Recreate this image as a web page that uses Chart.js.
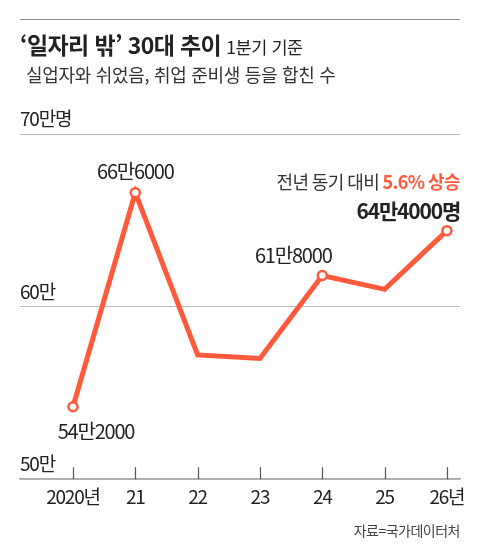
<!DOCTYPE html>
<html lang="ko">
<head>
<meta charset="utf-8">
<script src="https://cdn.jsdelivr.net/npm/chart.js@4.4.1/dist/chart.umd.min.js"></script>
<style>
  html, body { margin: 0; padding: 0; background: #fff; }
  #wrap { position: relative; width: 480px; height: 560px; overflow: hidden;
          font-family: "Noto Sans CJK KR", sans-serif; color: #222; }
  #wrap canvas { position: absolute; left: 0; top: 0; }
  .rule { position: absolute; left: 20px; top: 19px; width: 440px; border-top: 1.5px solid #8c8c8c; }
  .title { position: absolute; left: 20px; top: 28px; white-space: nowrap; font-size: 23px; font-weight: 700; line-height: 32px; letter-spacing: -0.6px; }
  .title small { font-size: 17.5px; font-weight: 400; margin-left: 5px; letter-spacing: -0.4px; }
  .sub { position: absolute; left: 26px; top: 61px; white-space: nowrap; font-size: 18px; line-height: 26px; color: #333; letter-spacing: -0.3px; }
  .src { position: absolute; right: 20px; top: 520px; font-size: 14px; color: #444; letter-spacing: -0.5px; }
</style>
</head>
<body>
<div id="wrap">
  <canvas id="chart" width="480" height="560"></canvas>
  <div class="rule"></div>
  <div class="title">‘일자리 밖’ 30대 추이<small>1분기 기준</small></div>
  <div class="sub">실업자와 쉬었음, 취업 준비생 등을 합친 수</div>
  <div class="src">자료=국가데이터처</div>
</div>
<script>
// 데이터 (단위: 만명)
var years = [2020, 2021, 2022, 2023, 2024, 2025, 2026];
var tickLabels = ['2020년', '21', '22', '23', '24', '25', '26년'];
var values = [54.2, 66.6, 57.2, 57.0, 61.8, 61.0, 64.4];
var yTicks = [50, 60, 70];
var yTickLabels = ['50만', '60만', '70만명'];
var labelYears = [2020, 2021, 2024, 2026];

var NUM_FONT = '"Noto Sans CJK KR", sans-serif';
var RED = '#FF5A3C';

// 라벨 위치 (점 기준 오프셋)
var labelOffsets = { 2020: [23, 25], 2021: [0, -21], 2024: [-29, -20] };

function fmt(v) {
    var man = Math.floor(v + 1e-9);
    var rest = Math.round((v - man) * 10000);
    return man + '만' + rest;
}

// 글자 폭을 좁게
var narrowText = {
    id: 'narrowText',
    beforeDraw: function(chart) { chart.ctx.letterSpacing = '-1.2px'; }
};

var tickMarks = {
    id: 'tickMarks',
    beforeDatasetsDraw: function(chart) {
        var ctx = chart.ctx, x = chart.scales.x, b = chart.chartArea.bottom;
        ctx.save();
        ctx.strokeStyle = '#555';
        ctx.lineWidth = 1.2;
        years.forEach(function(yr) {
            var px = Math.round(x.getPixelForValue(yr)) + 0.5;
            ctx.beginPath();
            ctx.moveTo(px, b - 12);
            ctx.lineTo(px, b);
            ctx.stroke();
        });
        ctx.restore();
    }
};

var pointLabels = {
    id: 'pointLabels',
    afterDatasetsDraw: function(chart) {
        var ctx = chart.ctx;
        var meta = chart.getDatasetMeta(0);
        var right = chart.chartArea.right;
        ctx.save();
        ctx.textBaseline = 'middle';
        labelYears.forEach(function(yr) {
            var i = years.indexOf(yr);
            var pt = meta.data[i];
            if (i === years.length - 1) {
                // 마지막 점: 강조 문구
                var prev = values[i - 1];
                var pct = ((values[i] - prev) / prev * 100).toFixed(1);
                ctx.textAlign = 'right';
                ctx.font = 'bold 21px ' + NUM_FONT;
                ctx.fillStyle = '#222';
                ctx.fillText(fmt(values[i]) + '명', right, pt.y - 20);
                ctx.letterSpacing = '-0.6px';
                ctx.font = '600 18px ' + NUM_FONT;
                var hi = pct + '% 상승';
                ctx.fillStyle = RED;
                ctx.fillText(hi, right, pt.y - 48);
                var w = ctx.measureText(hi).width;
                ctx.font = '18px ' + NUM_FONT;
                ctx.fillStyle = '#333';
                ctx.fillText('전년 동기 대비 ', right - w, pt.y - 48);
                ctx.letterSpacing = '-1.2px';
            } else {
                var off = labelOffsets[yr];
                ctx.textAlign = 'center';
                ctx.font = '20px ' + NUM_FONT;
                ctx.fillStyle = '#222';
                ctx.fillText(fmt(values[i]), pt.x + off[0], pt.y + off[1]);
            }
        });
        ctx.restore();
    }
};

var chart = new Chart(document.getElementById('chart'), {
    type: 'line',
    data: {
        datasets: [{
            data: years.map(function(y, i) { return { x: y, y: values[i] }; }),
            borderColor: RED,
            borderWidth: 5,
            borderJoinStyle: 'miter',
            tension: 0,
            pointRadius: function(c) { return labelYears.indexOf(years[c.dataIndex]) >= 0 ? 4.5 : 0; },
            pointBackgroundColor: '#fff',
            pointBorderColor: RED,
            pointBorderWidth: 2.5,
            pointHoverRadius: 0
        }]
    },
    options: {
        responsive: false,
        animation: false,
        layout: { padding: { left: 20, right: 20, top: 134, bottom: 46 } },
        plugins: { legend: { display: false }, tooltip: { enabled: false } },
        scales: {
            x: {
                type: 'linear',
                min: 2019.15,
                max: 2026.21,
                afterBuildTicks: function(s) { s.ticks = years.map(function(v) { return { value: v }; }); },
                grid: { display: false, drawTicks: false },
                border: { display: true, color: '#aaa', width: 1.5 },
                ticks: {
                    autoSkip: false, maxRotation: 0, padding: 6,
                    color: '#222',
                    font: { family: NUM_FONT, size: 19 },
                    callback: function(v, i) { return tickLabels[i]; }
                }
            },
            y: {
                min: 50,
                max: 70,
                afterBuildTicks: function(s) { s.ticks = yTicks.map(function(v) { return { value: v }; }); },
                grid: { color: '#bbb', lineWidth: 1, drawTicks: false },
                border: { display: false },
                ticks: {
                    mirror: true, padding: 0, labelOffset: -15,
                    color: '#222',
                    font: { family: NUM_FONT, size: 19 },
                    callback: function(v, i) { return yTickLabels[i]; }
                }
            }
        }
    },
    plugins: [narrowText, tickMarks, pointLabels]
});
</script>
</body>
</html>
